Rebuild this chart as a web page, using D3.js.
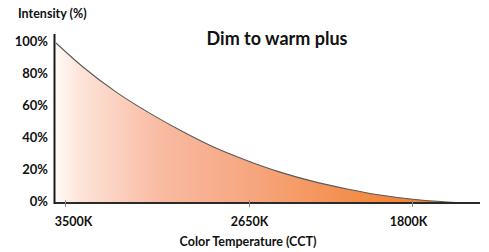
<!DOCTYPE html>
<html>
<head>
<meta charset="utf-8">
<script src="https://cdn.jsdelivr.net/npm/d3@7"></script>
<style>
  html, body { margin: 0; padding: 0; background: #fff; }
  svg { display: block; font-family: "Lato", "DejaVu Sans", sans-serif; font-weight: 700; }
</style>
</head>
<body>
<svg id="chart" width="489" height="252"></svg>
<script>
// curve: colour temperature (K) vs intensity (%)
const cct = [3542, 3417, 3260, 3107, 2955, 2798, 2645, 2488, 2316, 2139, 1967, 1795, 1618, 1524];
const intensity = [100, 85, 69, 56, 44.5, 34, 25.8, 19.3, 13.5, 8.8, 5, 2.3, 0.6, 0];

const cctTicks = [3500, 2650, 1800];
const pctTicks = [0, 20, 40, 60, 80, 100];

const title = "Dim to warm plus";
const xTitle = "Color Temperature (CCT)";
const yTitle = "Intensity (%)";

const svg = d3.select("#chart");

// the x axis is schematic, not linear in kelvin, so map it piecewise
const x = d3.scaleLinear()
  .domain([3551, 3500, 2650, 1800, 1446])
  .range([54, 65, 249, 412, 480]);
const y = d3.scaleLinear().domain([0, 100]).range([203, 43]);

const data = cct.map((k, i) => ({ k, v: intensity[i] }));

// fill gradient, pale at the cool end, orange at the warm end
const grad = svg.append("defs").append("linearGradient")
  .attr("id", "warm")
  .attr("gradientUnits", "userSpaceOnUse")
  .attr("x1", x(3542)).attr("x2", x(1524))
  .attr("y1", 0).attr("y2", 0);
[
  [0, "#fffaf7"],
  [0.06, "#fde4d8"],
  [0.25, "#f9bba3"],
  [0.5, "#f6a47b"],
  [0.72, "#f48f4c"],
  [1, "#f07a25"]
].forEach(([o, c]) => grad.append("stop").attr("offset", o).attr("stop-color", c));

const area = d3.area()
  .x(d => x(d.k))
  .y0(y(0))
  .y1(d => y(d.v))
  .curve(d3.curveMonotoneX);

const line = d3.line()
  .x(d => x(d.k))
  .y(d => y(d.v))
  .curve(d3.curveMonotoneX);

svg.append("path")
  .datum(data)
  .attr("d", area)
  .attr("fill", "url(#warm)");

svg.append("path")
  .datum(data)
  .attr("d", line)
  .attr("fill", "none")
  .attr("stroke", "#5a5a5a")
  .attr("stroke-width", 1.1);

// x axis
const xAxis = svg.append("g")
  .attr("transform", `translate(0,${y(0)})`)
  .call(d3.axisBottom(x).tickValues(cctTicks).tickFormat(d => d + "K").tickSizeOuter(0));
xAxis.attr("font-family", null).attr("font-size", null);
xAxis.select(".domain")
  .attr("d", `M${x.range()[0]},0H${x.range()[4]}`)
  .attr("stroke", "#2a2a2a")
  .attr("stroke-width", 2);
xAxis.selectAll(".tick line")
  .attr("y1", -3).attr("y2", 4)
  .attr("stroke", "#8a8a8a")
  .attr("stroke-width", 1);
xAxis.selectAll(".tick text")
  .attr("y", 23)
  .attr("dy", 0)
  .attr("dx", d => d === 3500 ? 8 : d === 1800 ? -4 : 0)
  .attr("fill", "#111")
  .style("font-size", "12.5px");

// y axis
svg.append("line")
  .attr("x1", 54.5).attr("x2", 54.5)
  .attr("y1", 34).attr("y2", y(0) + 1)
  .attr("stroke", "#1a1a1a")
  .attr("stroke-width", 2);

svg.append("g")
  .selectAll("text")
  .data(pctTicks)
  .join("text")
  .attr("x", 48)
  .attr("y", d => y(d) - 1.5)
  .attr("dy", "0.35em")
  .attr("text-anchor", "end")
  .attr("fill", "#111")
  .style("font-size", "13px")
  .text(d => d + "%");

// titles
svg.append("text")
  .attr("x", 277).attr("y", 45)
  .attr("text-anchor", "middle")
  .attr("fill", "#111")
  .style("font-size", "18px")
  .text(title);

svg.append("text")
  .attr("x", 248).attr("y", 246)
  .attr("text-anchor", "middle")
  .attr("fill", "#111")
  .style("font-size", "12.5px")
  .text(xTitle);

svg.append("text")
  .attr("x", 18).attr("y", 18)
  .attr("fill", "#111")
  .style("font-size", "12.5px")
  .text(yTitle);
</script>
</body>
</html>
